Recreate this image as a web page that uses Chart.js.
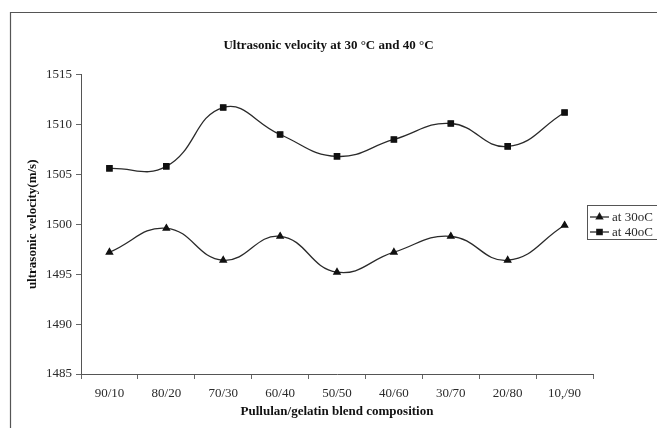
<!DOCTYPE html>
<html>
<head>
<meta charset="utf-8">
<script src="https://cdn.jsdelivr.net/npm/chart.js@4.4.1/dist/chart.umd.min.js"></script>
<style>
html,body{margin:0;padding:0;background:#fff;}
#wrap{width:657px;height:428px;position:relative;}
</style>
</head>
<body>
<div id="wrap"><canvas id="c" width="657" height="428"></canvas></div>
<script>
const categories = ["90/10","80/20","70/30","60/40","50/50","40/60","30/70","20/80","10,/90"];
const at30 = [1497.2,1499.6,1496.4,1498.8,1495.2,1497.2,1498.8,1496.4,1499.9];
const at40 = [1505.6,1505.8,1511.7,1509.0,1506.8,1508.5,1510.1,1507.8,1511.2];
const seriesNames = ["at 30oC","at 40oC"];
const yTicks = [1485,1490,1495,1500,1505,1510,1515];
const titleText = "Ultrasonic velocity at 30 \u00B0C and 40 \u00B0C";
const xTitle = "Pullulan/gelatin blend composition";
const yTitle = "ultrasonic velocity(m/s)";

const SERIF = "'Liberation Serif','Times New Roman',serif";
const INK = '#2a2a2a';

const framePlugin = {
  id:'frame',
  afterLayout(chart){
    const tb = chart.titleBlock;
    if (tb){ tb.left = 0; tb.right = chart.width; tb.width = chart.width; }
  },
  beforeDraw(chart){
    const ctx = chart.ctx;
    ctx.save();
    ctx.fillStyle='#fff';
    ctx.fillRect(0,0,chart.width,chart.height);
    ctx.strokeStyle='#555';
    ctx.lineWidth=1.2;
    ctx.beginPath();
    ctx.moveTo(10.5,428);
    ctx.lineTo(10.5,12.5);
    ctx.lineTo(657,12.5);
    ctx.stroke();
    ctx.restore();
  }
};

const legendPlugin = {
  id:'boxLegend',
  afterDraw(chart){
    const ctx = chart.ctx;
    ctx.save();
    ctx.strokeStyle='#555';
    ctx.lineWidth=1;
    ctx.strokeRect(587.5,205.5,80,34);
    const ys=[217,232];
    chart.data.datasets.forEach((ds,i)=>{
      const y=ys[i];
      ctx.strokeStyle=ds.borderColor;
      ctx.lineWidth=1.3;
      ctx.beginPath();
      ctx.moveTo(590,y);ctx.lineTo(609,y);ctx.stroke();
      Chart.helpers.drawPoint(ctx,{pointStyle:ds.pointStyle,radius:ds.pointRadius,borderWidth:1},599.5,y);
      ctx.fillStyle=ds.pointBackgroundColor;
      ctx.fill();
      ctx.fillStyle=INK;
      ctx.font="13px "+SERIF;
      ctx.textBaseline='middle';
      ctx.textAlign='left';
      ctx.fillText(ds.label,612,y+0.5);
    });
    ctx.restore();
  }
};

new Chart(document.getElementById('c'),{
  type:'line',
  data:{
    labels:categories,
    datasets:[
      {label:seriesNames[0],data:at30,borderColor:'#2a2a2a',backgroundColor:'#111',pointBackgroundColor:'#111',pointBorderColor:'#111',
       pointStyle:'triangle',pointRadius:3.6,borderWidth:1.3,tension:0.45,fill:false},
      {label:seriesNames[1],data:at40,borderColor:'#2a2a2a',backgroundColor:'#111',pointBackgroundColor:'#111',pointBorderColor:'#111',
       pointStyle:'rect',pointRadius:3.8,borderWidth:1.3,tension:0.45,fill:false}
    ]
  },
  options:{
    responsive:false,
    animation:false,
    layout:{padding:{left:0,right:64,top:0,bottom:0}},
    plugins:{
      legend:{display:false},
      tooltip:{enabled:false},
      title:{display:true,text:titleText,color:'#111',font:{family:SERIF,size:13,weight:'bold'},padding:{top:38,bottom:21}}
    },
    scales:{
      x:{
        type:'category',
        offset:true,
        grid:{offset:true,drawOnChartArea:false,drawTicks:true,tickLength:5,color:'#666'},
        border:{color:'#555',width:1},
        ticks:{color:INK,font:{family:SERIF,size:13},padding:7,maxRotation:0,autoSkip:false},
        title:{display:true,text:xTitle,color:'#111',font:{family:SERIF,size:13,weight:'bold'},padding:{top:0,bottom:9}},
        afterFit(s){s.height=54;}
      },
      y:{
        min:1485,max:1515,
        afterBuildTicks(s){s.ticks=yTicks.map(v=>({value:v}));},
        grid:{drawOnChartArea:false,drawTicks:true,tickLength:5,color:'#666'},
        border:{color:'#555',width:1},
        ticks:{color:INK,font:{family:SERIF,size:13},padding:4,callback:(v)=>String(v)},
        title:{display:true,text:yTitle,color:'#111',font:{family:SERIF,size:13,weight:'bold'},padding:{top:25,bottom:0}},
        afterFit(s){s.width=81;}
      }
    }
  },
  plugins:[framePlugin,legendPlugin]
});
</script>
</body>
</html>
